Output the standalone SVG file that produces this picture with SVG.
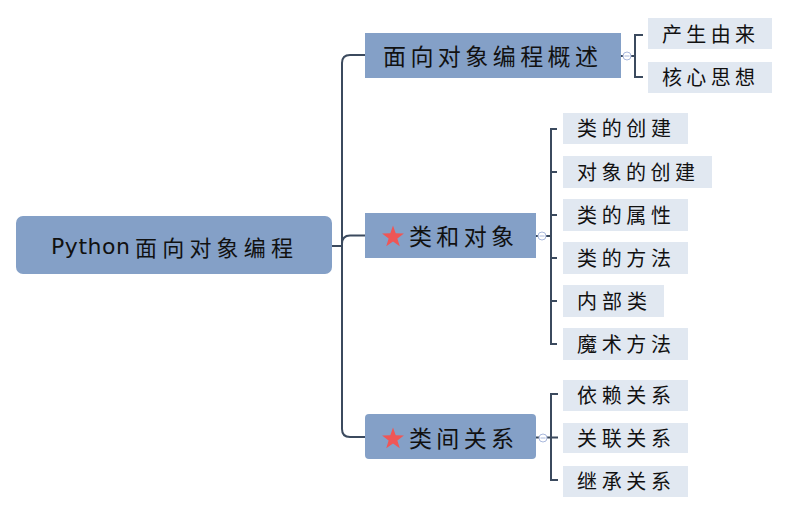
<svg xmlns="http://www.w3.org/2000/svg" width="794" height="516" viewBox="0 0 794 516">
<style>
.main{fill:#84a0c7}
.sub{fill:#e1e8f1}
.t{font-family:"Noto Sans CJK SC","DejaVu Sans",sans-serif;fill:#111;dominant-baseline:central}
.tl{font-family:"DejaVu Sans",sans-serif;fill:#111;dominant-baseline:central}
.tm{font-size:23px}
.ts{font-size:20px}
.ln{fill:none;stroke:#3b4a5e;stroke-width:2}
.cc{fill:#fff;stroke:#aab9dd;stroke-width:1}
.star{fill:#ef5656}
</style>
<defs>
<polygon id="star" points="0,-11.5 2.7,-3.73 10.94,-3.55 4.37,1.43 6.76,9.3 0,4.6 -6.76,9.3 -4.37,1.43 -10.94,-3.55 -2.7,-3.73"/>
</defs>
<g id="connectors">
<path class="ln" d="M332,246 H342"/>
<path class="ln" d="M365,55 H350 Q342,55 342,63 V429 Q342,437 350,437 H365"/>
<path class="ln" d="M342,244 Q342,235.5 350,235.5 H365"/>
<path class="ln" d="M643,35 H635 V77 H643 M621,56 H635"/>
<path class="ln" d="M557,129 H551 V344 H557 M551,172 H557 M551,215 H557 M551,258 H557 M551,301 H557 M536,236 H551"/>
<path class="ln" d="M558,394 H551 V480 H558 M536,437.5 H558"/>
<g>
<circle class="cc" cx="627" cy="56" r="4"/><path d="M624.5,56 H629.5" stroke="#aab9dd" stroke-width="1"/>
<circle class="cc" cx="542" cy="236" r="4"/><path d="M539.5,236 H544.5" stroke="#aab9dd" stroke-width="1"/>
<circle class="cc" cx="543" cy="438" r="4"/><path d="M540.5,438 H545.5" stroke="#aab9dd" stroke-width="1"/>
</g>
</g>
<g id="root">
<rect class="main" x="16" y="216" width="316" height="58" rx="7"/>
<text class="tl" x="51" y="246" font-size="22" textLength="79" lengthAdjust="spacing">Python</text>
<text class="t" x="135" y="246" font-size="22" textLength="158" lengthAdjust="spacing">面向对象编程</text>
</g>
<g id="b1">
<rect class="main" x="365" y="33" width="256" height="45"/>
<text class="t tm" x="383" y="55" textLength="215" lengthAdjust="spacing">面向对象编程概述</text>
</g>
<g id="b2">
<rect class="main" x="365" y="213" width="171" height="45"/>
<use href="#star" class="star" x="393" y="237"/>
<text class="t tm" x="409" y="235" textLength="105" lengthAdjust="spacing">类和对象</text>
</g>
<g id="b3">
<rect class="main" x="365" y="414" width="171" height="45" rx="4"/>
<use href="#star" class="star" x="393" y="439"/>
<text class="t tm" x="409" y="437" textLength="105" lengthAdjust="spacing">类间关系</text>
</g>
<g id="c1"><rect class="sub" x="648" y="18" width="124" height="31"/><text class="t ts" x="662" y="33" textLength="93" lengthAdjust="spacing">产生由来</text></g>
<g id="c2"><rect class="sub" x="648" y="62" width="124" height="31"/><text class="t ts" x="662" y="76" textLength="93" lengthAdjust="spacing">核心思想</text></g>
<g id="c3"><rect class="sub" x="563" y="113" width="125" height="31"/><text class="t ts" x="577" y="127" textLength="94" lengthAdjust="spacing">类的创建</text></g>
<g id="c4"><rect class="sub" x="563" y="156" width="149" height="32"/><text class="t ts" x="577" y="171" textLength="118" lengthAdjust="spacing">对象的创建</text></g>
<g id="c5"><rect class="sub" x="563" y="199" width="125" height="32"/><text class="t ts" x="577" y="214" textLength="94" lengthAdjust="spacing">类的属性</text></g>
<g id="c6"><rect class="sub" x="563" y="242" width="125" height="32"/><text class="t ts" x="577" y="257" textLength="94" lengthAdjust="spacing">类的方法</text></g>
<g id="c7"><rect class="sub" x="563" y="285" width="101" height="32"/><text class="t ts" x="577" y="300" textLength="70" lengthAdjust="spacing">内部类</text></g>
<g id="c8"><rect class="sub" x="563" y="328" width="125" height="32"/><text class="t ts" x="577" y="343" textLength="94" lengthAdjust="spacing">魔术方法</text></g>
<g id="c9"><rect class="sub" x="563" y="380" width="125" height="31"/><text class="t ts" x="577" y="394" textLength="94" lengthAdjust="spacing">依赖关系</text></g>
<g id="c10"><rect class="sub" x="563" y="423" width="125" height="30"/><text class="t ts" x="577" y="437" textLength="94" lengthAdjust="spacing">关联关系</text></g>
<g id="c11"><rect class="sub" x="563" y="466" width="125" height="31"/><text class="t ts" x="577" y="480" textLength="94" lengthAdjust="spacing">继承关系</text></g>
</svg>
